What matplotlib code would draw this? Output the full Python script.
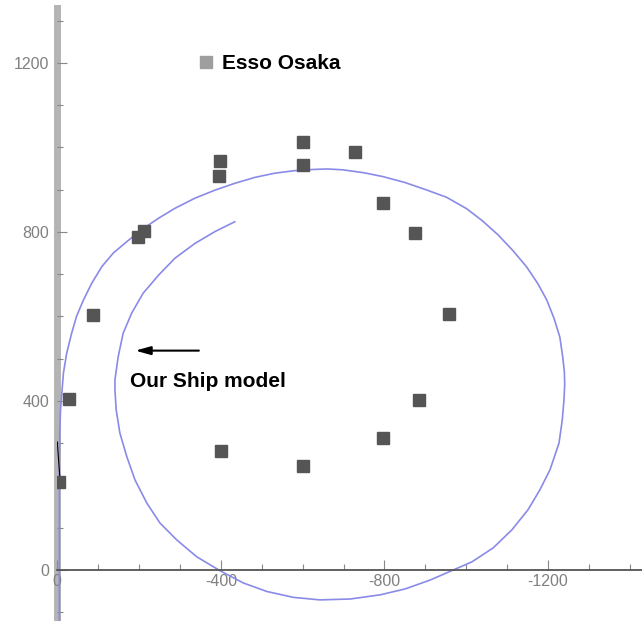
import matplotlib.pyplot as plt
from matplotlib.lines import Line2D
from matplotlib.ticker import MultipleLocator

plt.rcParams['font.family'] = ['Liberation Sans', 'DejaVu Sans']
plt.rcParams['axes.unicode_minus'] = False

# Esso Osaka full-scale trial points
esso_x = [-5, -29, -87, -197, -213, -396, -398, -601, -600, -728, -796, -876, -957, -885, -796, -400, -601]
esso_y = [208, 405, 604, 788, 802, 933, 969, 1013, 958, 990, 868, 798, 605, 402, 312, 282, 246]

# short black track near the origin
track_x = [-7, 0]
track_y = [208, 303]

# our ship model trajectory
model_x = [-5, -5, -5, -6, -8, -11, -15, -23, -35, -47, -64, -84, -109, -137, -170, -206,
           -247, -288, -337, -386, -434, -483, -532, -581, -630, -660, -698, -750, -796,
           -850, -904, -952, -1001, -1040, -1078, -1115, -1148, -1175, -1197, -1215, -1229,
           -1236, -1240, -1241, -1239, -1235, -1227, -1205, -1180, -1151, -1112, -1066,
           -1014, -969, -912, -851, -790, -716, -642, -577, -512, -455, -398, -341, -292,
           -251, -219, -190, -170, -153, -144, -141, -141, -149, -161, -182, -210, -248,
           -288, -337, -386, -434]
model_y = [-125, 100, 250, 330, 380, 418, 466, 513, 560, 600, 639, 678, 718, 750, 777, 805,
           832, 856, 880, 899, 915, 929, 939, 945, 948, 949, 947, 940, 931,
           917, 899, 882, 855, 826, 793, 755, 717, 678, 639, 595, 551,
           505, 470, 440, 400, 355, 300, 237, 189, 142, 95, 52,
           19, 0, -24, -45, -59, -69, -71, -65, -51, -31, -2, 31, 71,
           111, 158, 213, 268, 324, 379, 426, 450, 505, 560, 608, 655, 698,
           738, 773, 801, 824]

fig = plt.figure(figsize=(6.42, 6.21), dpi=100)
ax = fig.add_axes([57.3 / 642, 0, 584.7 / 642, 613 / 621])

ax.plot(model_x, model_y, color='#8a8ae8', lw=1.2, zorder=2, solid_joinstyle='round')
ax.plot(track_x, track_y, color='black', lw=0.8, zorder=2)
ax.plot(esso_x, esso_y, 's', color='#555555', ms=9, ls='none', zorder=3)

ax.set_xlim(0, -1430)
ax.set_ylim(-121, 1330)

# axes look
for s in ['top', 'right']:
    ax.spines[s].set_visible(False)
ax.spines['bottom'].set_position(('data', 0))
ax.spines['bottom'].set_color('#555555')
ax.spines['bottom'].set_linewidth(1.3)
ax.spines['left'].set_color('#b4b4b4')
ax.spines['left'].set_linewidth(5)
ax.spines['left'].set_zorder(1)

ax.xaxis.set_major_locator(MultipleLocator(400))
ax.xaxis.set_minor_locator(MultipleLocator(100))
ax.yaxis.set_major_locator(MultipleLocator(400))
ax.yaxis.set_minor_locator(MultipleLocator(100))
ax.tick_params(which='both', direction='in', colors='#888888', labelcolor='#808080', labelsize=11.5)
ax.tick_params(which='major', length=7, width=0.8)
ax.tick_params(which='minor', length=4, width=0.8)
ax.tick_params(axis='x', pad=3)
ax.tick_params(axis='y', pad=6)

# legend
handle = Line2D([], [], marker='s', ls='none', color='#9e9e9e', ms=9)
ax.legend(handles=[handle], labels=['Esso Osaka'], loc='center left',
          bbox_to_anchor=(0.205, 0.909), frameon=False, handlelength=1,
          handletextpad=0.27, prop={'weight': 'bold', 'size': 15})

# arrow + label
ax.annotate('', xy=(-184, 519), xytext=(-353, 519),
            arrowprops=dict(arrowstyle='-|>,head_length=0.9,head_width=0.25',
                            color='black', lw=1.5))
ax.text(-178, 447, 'Our Ship model', fontsize=15, fontweight='bold', va='center', ha='left')

plt.savefig('out.png', dpi=100)
